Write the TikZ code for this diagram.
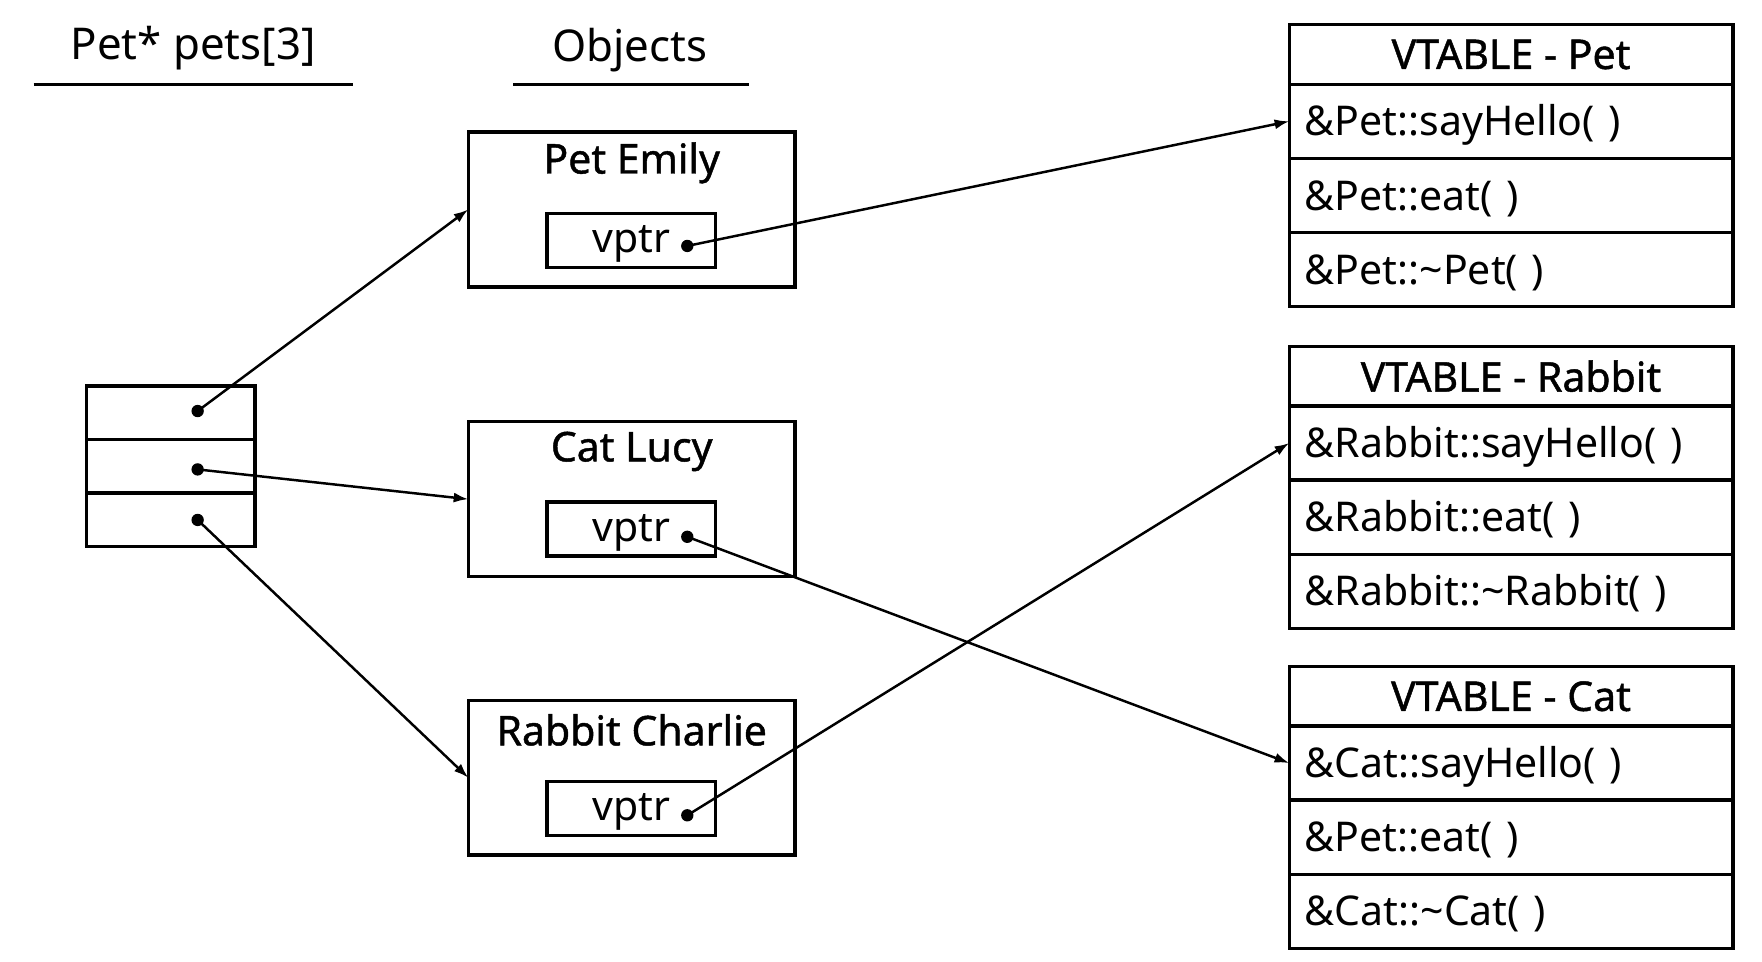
\documentclass[tikz,border=0pt]{standalone}
\usepackage{fontspec}
\setmainfont{Noto Sans}[AutoFakeBold=1.1]
\usetikzlibrary{positioning,arrows.meta}

\tikzset{
	every node/.style={font=\fontsize{36.5}{38}\selectfont},
	frame/.style={draw, line width=3pt, inner sep=0pt, outer sep=0pt},
	cell/.style={frame, minimum width=150pt, minimum height=47.7pt},
	objbox/.style={frame, minimum width=291pt, minimum height=138pt},
	ptrbox/.style={frame, minimum width=150pt, minimum height=48pt, text height=31pt, text depth=9pt},
	vhead/.style={frame, minimum width=395pt, minimum height=53pt, font=\fontsize{36.5}{38}\selectfont\bfseries},
	vrow/.style={frame, minimum height=66pt, text width=367pt, inner xsep=14pt, align=left, text height=33pt, text depth=7pt},
	dot/.style={circle, fill, inner sep=0pt, minimum size=11pt},
	link/.style={line width=2.2pt, -{Latex[length=13pt,width=9pt]}},
	rule/.style={line width=3pt},
	heading/.style={font=\fontsize{39}{41}\selectfont},
}

\begin{document}
\begin{tikzpicture}[x=1pt, y=-1pt]
		\useasboundingbox (0,0) rectangle (1569,856);
		
		% headers
		\node[heading] (hpets) at (172,43) {Pet* pets[3]};
		\node[heading] (hobj) at (561,45) {Objects};
		\draw[rule] (30,75) -- (314,75);
		\draw[rule] (457,75) -- (667,75);
		
		% the array
		\node[cell] (c1) at (152,367.5) {};
		\node[cell, below=0pt of c1] (c2) {};
		\node[cell, below=0pt of c2] (c3) {};
		\node[dot] (p1) at (176,366) {};
		\node[dot] (p2) at (176,418) {};
		\node[dot] (p3) at (176,463) {};
		
		% objects
		\node[objbox] (emily) at (562.5,186.5) {};
		\node (emilyname) at (562.5,145) {\bfseries Pet Emily};
		\node[ptrbox] (emilyptr) at (562,214) {vptr};
		\node[dot] (emilydot) at (612,219) {};
		
		\node[objbox] (lucy) at (562.5,444.5) {};
		\node (lucyname) at (562.5,402) {\bfseries Cat Lucy};
		\node[ptrbox] (lucyptr) at (562,471) {vptr};
		\node[dot] (lucydot) at (612,478) {};
		
		\node[objbox] (charlie) at (562.5,692.5) {};
		\node (charliename) at (562.5,650) {\bfseries Rabbit Charlie};
		\node[ptrbox] (charlieptr) at (562,720) {vptr};
		\node[dot] (charliedot) at (612,726) {};
		
		% vtables
		\foreach \n/\y/\a/\b/\c in {pet/48.5/Pet/Pet/Pet, rabbit/335/Rabbit/Rabbit/Rabbit, cat/620/Cat/Pet/Cat}{
			\node[vhead] (v\n) at (1345.5,\y) {VTABLE - \c};
			\node[vrow, below=0pt of v\n] (v\n1) {\&\a::sayHello( )};
			\node[vrow, below=0pt of v\n1] (v\n2) {\&\b::eat( )};
			\node[vrow, below=0pt of v\n2] (v\n3) {\&\c::\textasciitilde\c( )};
		}
		
		% pointers
		\draw[link] (p1.center) -- (emily.west);
		\draw[link] (p2.center) -- (lucy.west);
		\draw[link] (p3.center) -- (charlie.west);
		\draw[link] (emilydot.center) -- (vpet1.west);
		\draw[link] (lucydot.center) -- (vcat1.west);
		\draw[link] (charliedot.center) -- (vrabbit1.west);
\end{tikzpicture}
\end{document}
